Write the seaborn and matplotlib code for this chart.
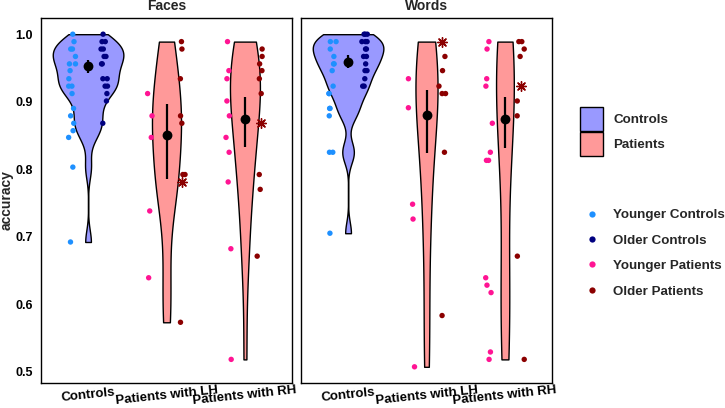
import numpy as np
import pandas as pd
import matplotlib
matplotlib.use("Agg")
import matplotlib.pyplot as plt
from matplotlib.patches import Patch
from matplotlib.lines import Line2D
import seaborn as sns

sns.set_theme(style="white")
plt.rcParams['font.family'] = ['Liberation Sans', 'DejaVu Sans']
plt.rcParams['font.weight'] = 'bold'

# ---------------- data ----------------
categories = ["Controls", "Patients with LH", "Patients with RH"]
panels = ["Faces", "Words"]

faces_controls_younger = [1.000, 0.989, 0.978, 0.978, 0.967, 0.956, 0.956, 0.946, 0.934,
                          0.923, 0.923, 0.912, 0.890, 0.879, 0.868, 0.857, 0.847, 0.803, 0.692]
faces_controls_older = [1.000, 0.989, 0.989, 0.978, 0.978, 0.967, 0.967, 0.956, 0.956,
                        0.934, 0.934, 0.923, 0.923, 0.912, 0.901, 0.868]
faces_lh_younger = [0.912, 0.879, 0.847, 0.738, 0.639]
faces_lh_older = [0.989, 0.978, 0.934, 0.879, 0.868, 0.792, 0.792, 0.573]
faces_lh_star = [0.781]
faces_rh_younger = [0.989, 0.946, 0.934, 0.901, 0.879, 0.847, 0.825, 0.781, 0.682, 0.518]
faces_rh_older = [0.978, 0.967, 0.956, 0.946, 0.934, 0.912, 0.792, 0.770, 0.671]
faces_rh_star = [0.868]

words_controls_younger = [0.989, 0.989, 0.978, 0.967, 0.956, 0.956, 0.946, 0.923, 0.912,
                          0.912, 0.890, 0.890, 0.879, 0.825, 0.825, 0.705]
words_controls_older = [1.000, 1.000, 1.000, 0.989, 0.989, 0.989, 0.978, 0.978, 0.967,
                        0.967, 0.956, 0.946, 0.946, 0.934, 0.923, 0.923]
words_lh_younger = [0.934, 0.891, 0.748, 0.726, 0.507]
words_lh_older = [0.967, 0.946, 0.923, 0.912, 0.912, 0.825, 0.583]
words_lh_star = [0.989]
words_rh_younger = [0.989, 0.978, 0.934, 0.923, 0.868, 0.825, 0.813, 0.813, 0.639, 0.628,
                    0.617, 0.529, 0.518]
words_rh_older = [0.989, 0.989, 0.978, 0.967, 0.901, 0.879, 0.671, 0.518]
words_rh_star = [0.923]

# summary (mean and interval) per category
faces_mean = [0.953, 0.850, 0.875]
faces_lo = [0.943, 0.786, 0.833]
faces_hi = [0.962, 0.896, 0.907]
words_mean = [0.959, 0.880, 0.874]
words_lo = [0.950, 0.824, 0.832]
words_hi = [0.969, 0.918, 0.907]

rows = []
def add(panel, cat, group, age, vals, star=False):
    for v in vals:
        rows.append(dict(panel=panel, category=cat, group=group, age=age, acc=v, star=star))

add("Faces", "Controls", "Controls", "Younger", faces_controls_younger)
add("Faces", "Controls", "Controls", "Older", faces_controls_older)
add("Faces", "Patients with LH", "Patients", "Younger", faces_lh_younger)
add("Faces", "Patients with LH", "Patients", "Older", faces_lh_older)
add("Faces", "Patients with LH", "Patients", "Older", faces_lh_star, True)
add("Faces", "Patients with RH", "Patients", "Younger", faces_rh_younger)
add("Faces", "Patients with RH", "Patients", "Older", faces_rh_older)
add("Faces", "Patients with RH", "Patients", "Older", faces_rh_star, True)
add("Words", "Controls", "Controls", "Younger", words_controls_younger)
add("Words", "Controls", "Controls", "Older", words_controls_older)
add("Words", "Patients with LH", "Patients", "Younger", words_lh_younger)
add("Words", "Patients with LH", "Patients", "Older", words_lh_older)
add("Words", "Patients with LH", "Patients", "Older", words_lh_star, True)
add("Words", "Patients with RH", "Patients", "Younger", words_rh_younger)
add("Words", "Patients with RH", "Patients", "Older", words_rh_older)
add("Words", "Patients with RH", "Patients", "Older", words_rh_star, True)
df = pd.DataFrame(rows)

summary = {"Faces": (faces_mean, faces_lo, faces_hi),
           "Words": (words_mean, words_lo, words_hi)}

fill_colors = {"Controls": "#9999FF", "Patients": "#FF9999"}
ctrl_pal = {"Younger": "#1E90FF", "Older": "#000080"}
pat_pal = {"Younger": "#FF1493", "Older": "#8B0000"}
bw_scale = {"Controls": 0.8, "Patients": 1.15}


def nrd0(x):
    x = np.asarray(x, float)
    sd = np.std(x, ddof=1)
    q75, q25 = np.percentile(x, [75, 25])
    lo = min(sd, (q75 - q25) / 1.34)
    if lo <= 0:
        lo = sd
    return 0.9 * lo * len(x) ** -0.2


def kde_peak(x, bw):
    x = np.asarray(x, float)
    grid = np.linspace(x.min(), x.max(), 512)
    z = (grid[:, None] - x[None, :]) / bw
    dens = np.exp(-0.5 * z ** 2).sum(1) / (len(x) * bw * np.sqrt(2 * np.pi))
    return dens.max()


# ---------------- figure ----------------
fig = plt.figure(figsize=(7.25, 4.08), dpi=100)
W, H = 725, 408
ax_l = fig.add_axes([41 / W, 1 - 383 / H, 251 / W, 365 / H])
ax_r = fig.add_axes([301 / W, 1 - 383 / H, 251 / W, 365 / H])

np.random.seed(3)
for ax, panel in zip([ax_l, ax_r], panels):
    d = df[df.panel == panel]
    # ggplot-like violins: nrd0 bandwidth, equal-area scaling within the panel
    info = {}
    for cat in categories:
        sub = d[d.category == cat]
        vals = sub.acc.values
        bw = nrd0(vals) * bw_scale[sub.group.iloc[0]]
        info[cat] = (bw, kde_peak(vals, bw), np.std(vals, ddof=1))
    peak_max = max(v[1] for v in info.values())
    for cat in categories:
        bw, pk, sd = info[cat]
        sub = d[d.category == cat]
        sns.violinplot(data=sub, x="category", y="acc", hue="group", order=categories,
                       hue_order=["Controls", "Patients"], palette=fill_colors, dodge=False,
                       cut=0, inner=None, density_norm="width", gridsize=200,
                       width=0.9 * pk / peak_max, bw_method=bw / sd, linecolor="black",
                       linewidth=1.0, saturation=1, legend=False, ax=ax)
    dots = d[~d.star]
    sns.stripplot(data=dots[dots.group == "Controls"], x="category", y="acc", hue="age",
                  order=categories, hue_order=["Younger", "Older"], palette=ctrl_pal,
                  dodge=True, jitter=0.1, size=3.9, linewidth=0, legend=False, ax=ax,
                  zorder=3)
    sns.stripplot(data=dots[dots.group == "Patients"], x="category", y="acc", hue="age",
                  order=categories, hue_order=["Younger", "Older"], palette=pat_pal,
                  dodge=True, jitter=0.1, size=3.9, linewidth=0, legend=False, ax=ax,
                  zorder=3)
    stars = d[d.star]
    n_before = len(ax.collections)
    sns.stripplot(data=stars, x="category", y="acc", hue="age",
                  order=categories, hue_order=["Younger", "Older"], palette=pat_pal,
                  dodge=True, jitter=0.05, size=7, marker=(8, 2, 0), linewidth=1.0,
                  legend=False, ax=ax, zorder=3)
    for coll in ax.collections[n_before:]:
        coll.set_edgecolor("#8B0000")
        coll.set_linewidth(1.0)

    m, lo, hi = summary[panel]
    xs = np.arange(len(categories))
    ax.vlines(xs, lo, hi, color="black", linewidth=1.6, zorder=4)
    ax.scatter(xs, m, s=50, color="black", zorder=5, linewidths=0)

    ax.set_xlim(-0.6, 2.6)
    ax.set_ylim(0.483, 1.024)
    ax.set_yticks([0.5, 0.6, 0.7, 0.8, 0.9, 1.0])
    ax.set_xlabel("")
    ax.set_ylabel("")
    ax.set_title(panel, fontsize=10, fontweight="bold", pad=5.5)
    for s in ax.spines.values():
        s.set_visible(True)
        s.set_color("black")
        s.set_linewidth(1.0)
    ax.tick_params(axis="both", direction="out", length=3.5, width=0.8, color="black",
                   labelcolor="black")
    ax.tick_params(axis="x", labelsize=9.5, pad=5.5)
    ax.tick_params(axis="y", labelsize=9, pad=2.5)
    for lab in ax.get_xticklabels():
        lab.set_rotation(6)
        lab.set_ha("center")
        lab.set_va("center")
        lab.set_rotation_mode("anchor")
        lab.set_fontweight("bold")

ax_l.set_yticklabels(["0.5", "0.6", "0.7", "0.8", "0.9", "1.0"], fontweight="bold")
ax_l.set_ylabel("accuracy", fontsize=10, fontweight="bold", labelpad=1)
ax_r.tick_params(axis="y", left=False, labelleft=False)

# legends
fs_leg = 9.6
fill_handles = [Patch(facecolor=fill_colors[k], edgecolor="black", linewidth=1.0, label=k)
                for k in ["Controls", "Patients"]]
leg1 = fig.legend(handles=fill_handles, loc="upper left",
                  bbox_to_anchor=(580 / W, 1 - 107 / H), frameon=False,
                  borderpad=0, borderaxespad=0, handlelength=1.73, handleheight=2.39,
                  labelspacing=0.1, handletextpad=0.75, prop=dict(size=fs_leg, weight="bold"))

dot_labels = [("Younger Controls", "#1E90FF"), ("Older Controls", "#000080"),
              ("Younger Patients", "#FF1493"), ("Older Patients", "#8B0000")]
dot_handles = [Line2D([], [], linestyle="none", marker="o", markersize=4.5,
                      markerfacecolor=c, markeredgewidth=0, label=l) for l, c in dot_labels]
leg2 = fig.legend(handles=dot_handles, loc="upper left",
                  bbox_to_anchor=(586 / W, 1 - 209 / H), frameon=False,
                  borderpad=0, borderaxespad=0, handlelength=0.9, labelspacing=0.98,
                  handletextpad=1.15, prop=dict(size=fs_leg, weight="bold"))

fig.savefig("out.png", dpi=100)
